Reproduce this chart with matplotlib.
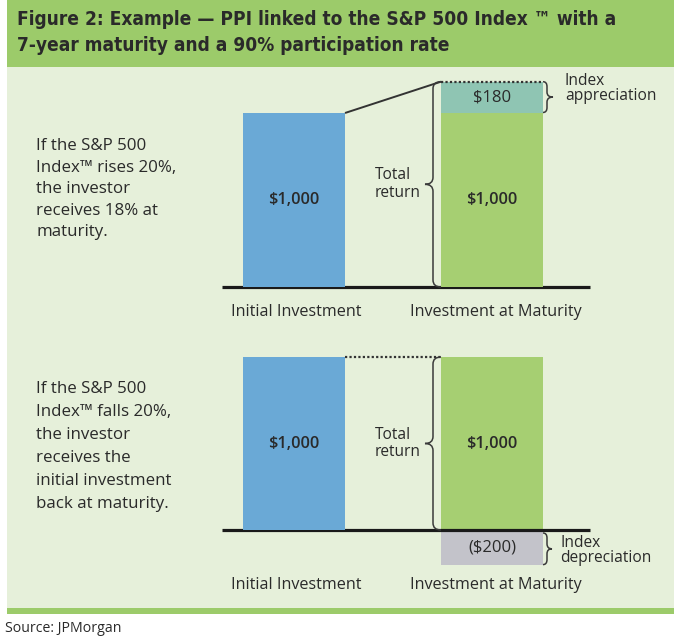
import matplotlib
matplotlib.use("Agg")
import matplotlib.pyplot as plt
from matplotlib.patches import Rectangle, PathPatch
from matplotlib.path import Path

# ---------------- data ----------------
categories = ["Initial Investment", "Investment at Maturity"]
initial_values = [1000, 1000]          # top scenario, bottom scenario
principal_at_maturity = [1000, 1000]
index_change = [180, -200]             # appreciation / depreciation shown
bar_labels_initial = ["$1,000", "$1,000"]
bar_labels_principal = ["$1,000", "$1,000"]
change_labels = ["$180", "($200)"]
change_names = ["Index\nappreciation", "Index\ndepreciation"]
side_texts = [
    "If the S&P 500\nIndex\u2122 rises 20%,\nthe investor\nreceives 18% at\nmaturity.",
    "If the S&P 500\nIndex\u2122 falls 20%,\nthe investor\nreceives the\ninitial investment\nback at maturity.",
]
title = ("Figure 2: Example \u2014 PPI linked to the S&P 500 Index \u2122 with a\n"
         "7-year maturity and a 90% participation rate")
source = "Source: JPMorgan"

# ---------------- style ----------------
BAND = "#9ccb6a"
PANEL = "#e6f0da"
BLUE = "#6aa9d6"
GREEN = "#a6cf72"
TEAL = "#8fc5b3"
GRAY = "#c3c3ca"
TXT = "#2a2a2a"
BODY_FONT = ["Open Sans", "DejaVu Sans"]

W, H = 674, 638
fig = plt.figure(figsize=(W / 100, H / 100), dpi=100)
fig.patch.set_facecolor("white")

# background decoration axes in pixel coordinates
bg = fig.add_axes([0, 0, 1, 1])
bg.set_xlim(0, W)
bg.set_ylim(H, 0)
bg.axis("off")
bg.add_patch(Rectangle((7, 0), W - 7, 67, color=BAND, lw=0))
bg.add_patch(Rectangle((7, 67), W - 7, 542, color=PANEL, lw=0))
bg.add_patch(Rectangle((7, 608), W - 7, 6, color=BAND, lw=0))
title_txt = bg.text(17, 32.5, title, fontsize=14, fontweight="bold",
                    color="#2a2a2a", family="DejaVu Sans",
                    fontstretch="condensed", va="center", ha="left",
                    linespacing=1.42)
bg.text(5, 628, source, fontsize=10.2, color=TXT, family=BODY_FONT,
        va="center", ha="left")

# fit title width to the reference (line 1 spans ~603 px)
fig.canvas.draw()
tw = title_txt.get_window_extent().width
title_txt.set_fontsize(14 * 603.0 / tw)


def brace(ax, x0, x_mid, x_tip, y0, y1, r):
    """Curly brace: ends at x0, spine at x_mid, tip at x_tip."""
    ym = (y0 + y1) / 2
    s = 1 if y1 > y0 else -1
    verts = [(x0, y0), (x_mid, y0), (x_mid, y0 + s * r),
             (x_mid, ym - s * r),
             (x_mid, ym), (x_tip, ym),
             (x_mid, ym), (x_mid, ym + s * r),
             (x_mid, y1 - s * r),
             (x_mid, y1), (x0, y1)]
    codes = [Path.MOVETO, Path.CURVE3, Path.CURVE3, Path.LINETO,
             Path.CURVE3, Path.CURVE3, Path.CURVE3, Path.CURVE3,
             Path.LINETO, Path.CURVE3, Path.CURVE3]
    ax.add_patch(PathPatch(Path(verts, codes), fill=False, lw=1.1,
                           ec="#3a3a3a", zorder=5))


px_per_unit_x = 198.0
bw = 102 / px_per_unit_x
x_left = (200 - 294) / px_per_unit_x
x_right = (674 - 294) / px_per_unit_x


def px_x(p):
    return (p - 294) / px_per_unit_x


panels = [
    dict(top=70, bottom=330, base=287, lvl=113, text_top=138, text_ls=1.46,
         cat_y=312),
    dict(top=335, bottom=600, base=530, lvl=357, text_top=381, text_ls=1.59,
         cat_y=585),
]

for i, p in enumerate(panels):
    upp = 1000.0 / (p["base"] - p["lvl"])  # units per pixel
    ax = fig.add_axes([200 / W, 1 - p["bottom"] / H, 474 / W,
                       (p["bottom"] - p["top"]) / H])
    ax.set_xlim(x_left, x_right)
    ax.set_ylim(-(p["bottom"] - p["base"]) * upp, (p["base"] - p["top"]) * upp)
    ax.axis("off")

    ax.bar([0], [initial_values[i]], width=bw, color=BLUE, zorder=3)
    ax.bar([1], [principal_at_maturity[i]], width=bw, color=GREEN,
           zorder=3 if i == 0 else 1)
    chg = index_change[i]
    if chg > 0:
        ax.bar([1], [chg], bottom=[principal_at_maturity[i]], width=bw,
               color=TEAL, zorder=3)
        top_total = principal_at_maturity[i] + chg
        ax.plot([bw / 2, 1 - bw / 2], [initial_values[i], top_total],
                color="#333333", lw=1.4, zorder=4, solid_capstyle="butt")
        ax.plot([1 - bw / 2, 1 + bw / 2], [top_total, top_total],
                color="#333333", lw=1.6, ls=(0, (1, 1)), zorder=4)
        brace(ax, px_x(543), px_x(547), px_x(553),
              principal_at_maturity[i] + 3, top_total, 5 * upp)
        ax.text(px_x(565), principal_at_maturity[i] + chg / 2 + 9 * upp,
                change_names[i], fontsize=11.2, color=TXT, family=BODY_FONT,
                va="center", ha="left", linespacing=0.95)
        brace_top = top_total
        chg_y = principal_at_maturity[i] + chg / 2
    else:
        ax.bar([1], [chg], width=bw, color=GRAY, zorder=1)
        ax.plot([bw / 2, 1 - bw / 2], [initial_values[i], initial_values[i]],
                color="#333333", lw=1.6, ls=(0, (1, 1)), zorder=4)
        brace(ax, px_x(543), px_x(547), px_x(552), -3 * upp, chg, 5 * upp)
        ax.text(px_x(560), chg / 2 - 3 * upp, change_names[i], fontsize=11.2,
                color=TXT, family=BODY_FONT, va="center", ha="left",
                linespacing=0.95)
        brace_top = principal_at_maturity[i]
        chg_y = chg / 2

    # baseline
    ax.plot([px_x(222), px_x(590)], [0, 0], color="#1a1a1a", lw=2.3,
            zorder=2, solid_capstyle="butt")

    # value labels
    ax.text(0, initial_values[i] / 2, bar_labels_initial[i], fontsize=11.8,
            fontweight="semibold", color=TXT, family=BODY_FONT,
            ha="center", va="center", zorder=6)
    ax.text(1, principal_at_maturity[i] / 2, bar_labels_principal[i],
            fontsize=11.8, fontweight="semibold", color=TXT,
            family=BODY_FONT, ha="center", va="center", zorder=6)
    ax.text(1, chg_y, change_labels[i], fontsize=12, color=TXT,
            family=BODY_FONT, ha="center", va="center", zorder=6)

    # total return brace
    brace(ax, px_x(441), px_x(433), px_x(425), 0, brace_top, 7 * upp)
    mid = brace_top / 2
    ax.text(px_x(375), mid, "Total\nreturn", fontsize=11.2, color=TXT,
            family=BODY_FONT, ha="left", va="center", linespacing=1.15)

    # category labels
    for xi, cat in enumerate(categories):
        ax.text(xi + (0.02 if xi else 0.01), -(p["cat_y"] - p["base"]) * upp,
                cat, fontsize=11.6, color=TXT, family=BODY_FONT,
                ha="center", va="center")

    # side explanation text
    bg.text(36, p["text_top"], side_texts[i], fontsize=12.2, color=TXT,
            family=BODY_FONT, ha="left", va="top", linespacing=p["text_ls"])

fig.savefig("out.png", dpi=100)
